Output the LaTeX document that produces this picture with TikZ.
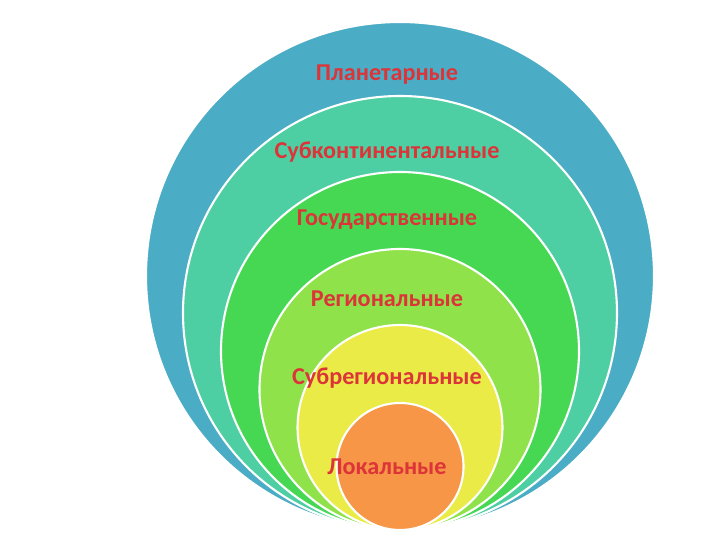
\documentclass[tikz,border=0pt]{standalone}
\usepackage{fontspec}
\setmainfont{Carlito}
\usepackage{tikz}
\usetikzlibrary{shapes}
\definecolor{ringBlue}{HTML}{4BACC6}
\definecolor{ringTeal}{HTML}{4DCFA3}
\definecolor{ringGreen}{HTML}{47D853}
\definecolor{ringLime}{HTML}{90E24A}
\definecolor{ringYellow}{HTML}{EBEB48}
\definecolor{ringOrange}{HTML}{F79646}
\definecolor{lblRed}{HTML}{DC3438}

\begin{document}
\begin{tikzpicture}[ring/.style={circle, draw=white, line width=1.5pt, inner sep=0pt, outer sep=0pt},
				   lbl/.style={text=lblRed, font=\fontsize{17.2}{19}\selectfont\bfseries, inner sep=0pt}]
\useasboundingbox (0,0) rectangle (18,13.5);
\node[ring, fill=ringBlue, minimum size=12.7cm] (planet) at (10,6.6) {};
\node[ring, fill=ringTeal, minimum size=10.85cm] (subcont) at (10,5.675) {};
\node[ring, fill=ringGreen, minimum size=8.95cm] (state) at (10,4.725) {};
\node[ring, fill=ringLime, minimum size=7.025cm] (region) at (10,3.7625) {};
\node[ring, fill=ringYellow, minimum size=5.125cm] (subregion) at (10,2.8125) {};
\node[ring, fill=ringOrange, minimum size=3.175cm] (local) at (10,1.8375) {};

\node[lbl] (planetText) at (9.675,11.625) {Планетарные};
\node[lbl] (subcontText) at (9.675,9.7) {Субконтинентальные};
\node[lbl] (stateText) at (9.675,8.0) {Государственные};
\node[lbl] (regionText) at (9.675,6.025) {Региональные};
\node[lbl] (subregionText) at (9.675,4.05) {Субрегиональные};
\node[lbl] (localText) at (9.675,1.825) {Локальные};
\end{tikzpicture}
\end{document}
